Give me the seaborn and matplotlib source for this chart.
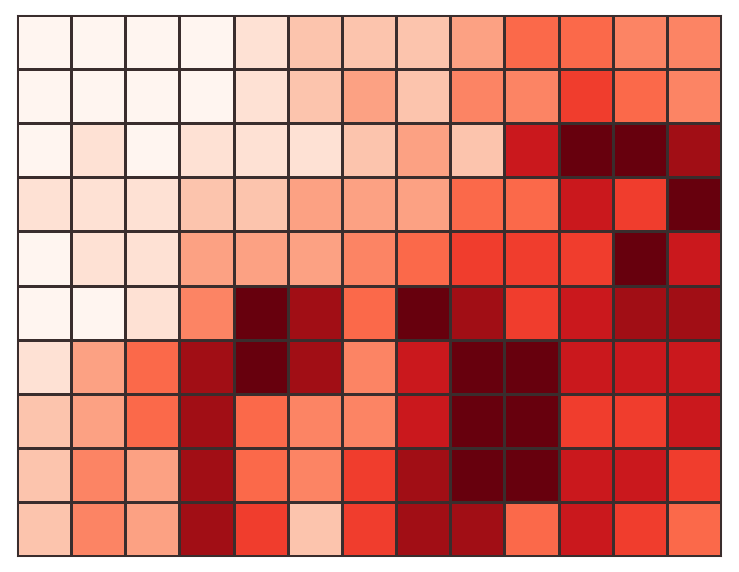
import matplotlib
matplotlib.use("Agg")
import matplotlib.pyplot as plt
import seaborn as sns
import pandas as pd

# cell values (0-100) estimated from the colour of each cell, top row first
row0 = [0, 0, 0, 0, 12, 22, 22, 22, 33, 50, 50, 42, 42]
row1 = [0, 0, 0, 0, 12, 22, 33, 22, 42, 42, 62, 50, 42]
row2 = [0, 12, 0, 12, 12, 12, 22, 33, 22, 75, 100, 100, 88]
row3 = [12, 12, 12, 22, 22, 33, 33, 33, 50, 50, 75, 62, 100]
row4 = [0, 12, 12, 33, 33, 33, 42, 50, 62, 62, 62, 100, 75]
row5 = [0, 0, 12, 42, 100, 88, 50, 100, 88, 62, 75, 88, 88]
row6 = [12, 33, 50, 88, 100, 88, 42, 75, 100, 100, 75, 75, 75]
row7 = [22, 33, 50, 88, 50, 42, 42, 75, 100, 100, 62, 62, 75]
row8 = [22, 42, 33, 88, 50, 42, 62, 88, 100, 100, 75, 75, 62]
row9 = [22, 42, 33, 88, 62, 22, 62, 88, 88, 50, 75, 62, 50]

data = pd.DataFrame([row0, row1, row2, row3, row4, row5, row6, row7, row8, row9])

fig = plt.figure(figsize=(7.39, 5.72), dpi=100)
ax = fig.add_axes([17 / 739, 1 - 556 / 572, 704 / 739, 541 / 572])
sns.heatmap(data, cmap="Reds", vmin=0, vmax=100, cbar=False,
            linewidths=0.75, linecolor="#3a2d2d",
            xticklabels=False, yticklabels=False, ax=ax)
for s in ax.spines.values():
    s.set_visible(True)
    s.set_color("#3a2d2d")
    s.set_linewidth(0.75)

fig.savefig("out.png", dpi=100)
